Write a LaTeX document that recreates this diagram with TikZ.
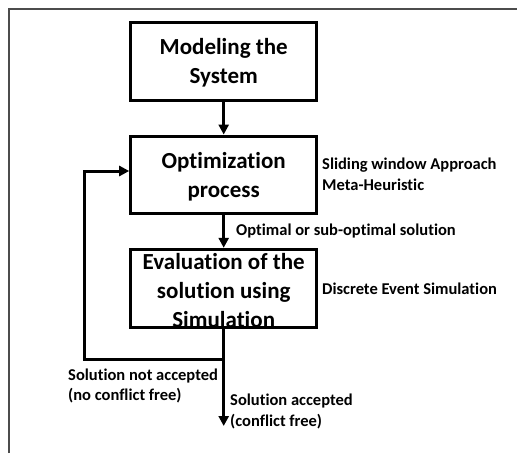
\documentclass[tikz,border=0pt]{standalone}
\usepackage{fontspec}
\setmainfont[Ligatures=NoCommon]{Carlito}
\usetikzlibrary{arrows.meta}
\begin{document}
\begin{tikzpicture}[x=1pt,y=-1pt,
  box/.style={draw, line width=3pt, minimum width=186pt, inner sep=0pt},
  boxtext/.style={font=\fontsize{23}{29}\selectfont\bfseries, align=center, inner sep=0pt},
  side/.style={font=\fontsize{16.5}{20.5}\selectfont\bfseries, align=left, anchor=west, inner sep=0pt},
  flow/.style={line width=3pt, -{Triangle[width=10pt,length=10pt]}},
  plain/.style={line width=3pt}]
\useasboundingbox (0,0) rectangle (517,453);
\draw[black!70, line width=1.6pt] (9,453) -- (9,9) -- (517,9);
\node[box, minimum height=78.4pt] (b1) at (223.7,61.5) {};
\node[box, minimum height=77.3pt] (b2) at (223.7,174.7) {};
\node[box, minimum height=78.4pt] (b3) at (223.7,288.5) {};
\node[boxtext] (t1) at (223.7,63) {Modeling the\\System};
\node[boxtext] (t2) at (223.7,177) {Optimization\\process};
\node[boxtext] (t3) at (223.7,291) {Evaluation of the\\solution using\\Simulation};
\coordinate (j) at (223.7,359.3);
\coordinate (c1) at (84,359.3);
\coordinate (c2) at (84,171);
\coordinate (e) at (223.7,426);
\draw[flow] (b1.south) -- (b2.north);
\draw[flow] (b2.south) -- (b3.north);
\draw[plain] (b3.south) -- (j);
\draw[flow, line join=miter] (j) -- (c1) -- (c2) -- (c2 -| b2.west);
\draw[flow] (j) -- (e);
\node[side] (s1) at (322,174.5) {Sliding window Approach\\Meta-Heuristic};
\node[side] (s2) at (236,231) {Optimal or sub-optimal solution};
\node[side] (s3) at (322,289) {Discrete Event Simulation};
\node[side] (s4) at (68,386) {Solution not accepted\\(no conflict free)};
\node[side] (s5) at (230,411.5) {Solution accepted\\(conflict free)};
\end{tikzpicture}
\end{document}
